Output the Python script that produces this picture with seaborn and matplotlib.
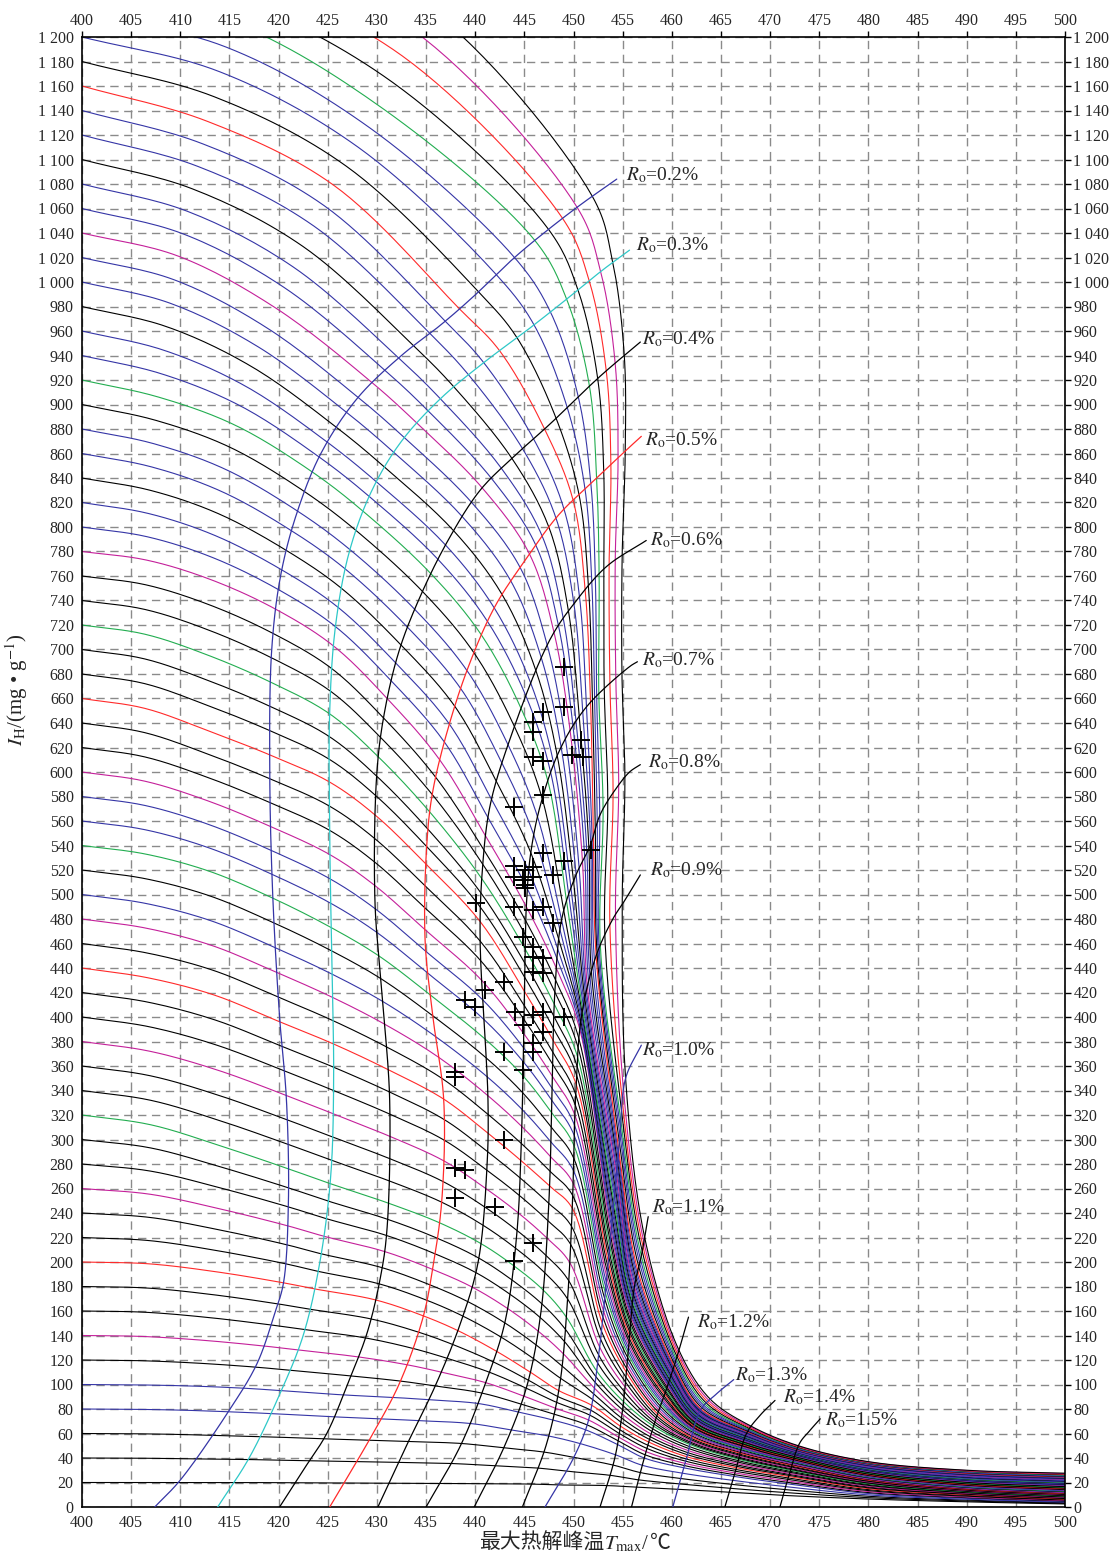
import numpy as np
import pandas as pd
import matplotlib
matplotlib.use("Agg")
import matplotlib.pyplot as plt
import seaborn as sns
from matplotlib.ticker import MultipleLocator, FuncFormatter

# ---------------------------------------------------------------------------
# Evolution curves: initial hydrogen index (IH at Tmax = 400 degC) and colour
# ---------------------------------------------------------------------------
ih0_curves = list(range(20, 1340, 20))
curve_codes = list("KKKBBKMKKR" "KKMKKGKKMK" "KRKMBKGBBM" "KKRKKGKKMB"
                   "BKBBKGBBKB" "BMBBKBBRKB" "BGKRMK")
palette_codes = {"K": "#000000", "B": "#3535a6", "R": "#ff2a2a",
                 "M": "#c4209a", "G": "#22ad50", "C": "#2ec8c8"}

# Reference curves (by initial IH) and the IH where they cross each iso-Ro line
key_ih0 = [20, 100, 200, 320, 440, 540, 660, 780, 920, 1040, 1160, 1240, 1320]
pre1_ih = [20, 99.7, 198.5, 312, 432, 533, 652, 773, 906, 1021, 1131, 1212, 1286]
pre2_ih = [20, 98.8, 192, 295, 418, 519, 634, 757, 883, 979, 1079, 1141, 1228]
cross_ro02 = [20, 97, 183, 276, 396, 497, 614, 733, 845, 918, 978, 1034, 1070]
cross_ro03 = [20, 95, 178, 264, 378, 473, 592, 703, 813, 885, 944, 986, 1016]
cross_ro04 = [19.8, 91.5, 169, 248, 357, 450, 565, 660, 762, 832, 880, 915, 940]
cross_ro05 = [19.6, 89.5, 156, 232, 333, 418, 525, 610, 712, 778, 822, 840, 862]
cross_ro06 = [19.4, 87.5, 144, 215, 305, 382, 478, 548, 652, 714, 749, 762, 777]
cross_ro07 = [19.2, 84.5, 127, 197, 283, 352, 421, 490, 593, 634, 657, 664, 681]
cross_ro08 = [19.0, 77.5, 110, 177, 262, 322, 381, 440, 495, 527, 548, 570, 596]
cross_ro09 = [18.7, 71, 95, 155, 244, 295, 345, 390, 406, 425, 450, 459, 492]
cross_ro10 = [18, 63, 83, 111, 150, 175, 200, 225, 250, 272, 292, 315, 350]
cross_ro11 = [17.5, 51, 66, 86, 110, 125, 140, 155, 168, 180, 193, 205, 220]
cross_ro12 = [16.2, 40, 53, 66, 76, 84, 92, 99, 105, 110, 115, 121, 128]
cross_ro13 = [14.5, 32, 41, 51, 57, 62, 66, 70, 74, 77, 80, 84, 88]
cross_ro14 = [12, 25, 32, 39, 44, 47.5, 51, 54, 57, 59.5, 61.5, 63.5, 66]
cross_ro15 = [9.5, 19, 25, 30, 34, 37, 39.5, 42, 44, 45.5, 47, 48.5, 50]
tail_tmax = [480, 490, 500]
tail_480 = [6.5, 11, 15, 19, 22, 24.5, 26.5, 29, 31, 33, 35, 36, 37]
tail_490 = [4.2, 7, 10, 12.5, 14.5, 16.5, 18.5, 21, 23, 25.5, 27.5, 29, 30]
tail_500 = [2.5, 4.5, 6.5, 9, 11, 13, 15, 17.5, 20, 22.5, 24.5, 26, 27.6]

# ---------------------------------------------------------------------------
# Iso-Ro lines (Tmax, IH) from the baseline up to the label leader end
# ---------------------------------------------------------------------------
ro_levels = ["0.2", "0.3", "0.4", "0.5", "0.6", "0.7", "0.8",
             "0.9", "1.0", "1.1", "1.2", "1.3", "1.4", "1.5"]
ro_colors = ["B", "C", "K", "R", "K", "K", "K", "K", "B", "K", "K", "B", "K", "K"]
ro02_t = [407.4, 410, 414.9, 417.8, 419.6, 420.5, 421, 420.8, 420.1, 419.4, 419.1, 419.3, 420.2, 421.8, 424.3, 428, 432.5, 436.5, 439.8, 444, 447.3, 450.7, 454.4]
ro02_ih = [0, 22, 78, 117, 158, 183, 250, 332, 400, 500, 600, 700, 760, 810, 860, 905, 940, 965, 988, 1020, 1042, 1063, 1084]
ro03_t = [413.8, 417, 420, 422.5, 424.2, 425.3, 425.6, 425.4, 425.2, 425.2, 425.8, 427.2, 429.5, 432.5, 436.5, 441, 445.5, 449.3, 453, 455.7]
ro03_ih = [0, 40, 90, 140, 200, 270, 350, 450, 550, 650, 720, 780, 830, 870, 905, 935, 962, 986, 1010, 1026]
ro04_t = [420.1, 422.5, 424.9, 427, 429, 430.3, 431, 431.3, 430.5, 429.8, 430, 430.8, 432.3, 434.5, 437.3, 440.5, 444, 447.6, 452.7, 456.8]
ro04_ih = [0, 30, 60, 100, 142, 185, 224, 332, 420, 495, 600, 650, 700, 745, 790, 830, 858, 884, 923, 951]
ro05_t = [425.2, 429.6, 432.3, 434.7, 435.7, 436.6, 436.8, 435.7, 434.9, 435.1, 435.7, 437.4, 439.5, 442, 445, 448.5, 451.7, 455.4, 456.9]
ro05_ih = [0, 60, 101, 155, 196, 250, 332, 400, 463, 544, 585, 640, 690, 735, 772, 810, 835, 863, 874]
ro06_t = [430.1, 433, 436, 438.5, 440.3, 441.2, 441.3, 440.5, 440.7, 441.5, 443.5, 447.6, 450.3, 453.4, 457.4]
ro06_ih = [0, 50, 100, 150, 200, 278, 332, 463, 517, 572, 626, 708, 740, 768, 789]
ro07_t = [435, 438.5, 441, 443, 444.2, 444.7, 445.1, 445.2, 445.6, 446.6, 448.6, 451.3, 455.7, 456.5]
ro07_ih = [0, 50, 100, 150, 220, 300, 463, 490, 531, 572, 618, 653, 686, 690]
ro08_t = [439.9, 443, 445.3, 446.7, 447.5, 447.8, 448.1, 448.8, 450.2, 451.7, 452.7, 454.2, 455.7, 456.8]
ro08_ih = [0, 50, 100, 160, 250, 332, 420, 480, 515, 540, 565, 585, 600, 606]
ro09_t = [444.8, 447.2, 448.6, 449.4, 449.9, 450.2, 450.8, 452.3, 454.0, 455.2, 456.8]
ro09_ih = [0, 50, 100, 170, 250, 332, 400, 450, 480, 495, 516]
ro10_t = [447.1, 450, 451.5, 452.5, 453.3, 454, 454.7, 455.3, 456.9]
ro10_ih = [0, 40, 70, 120, 180, 240, 300, 350, 377]
ro11_t = [452.7, 454.2, 455, 455.6, 456.2, 456.9, 457.6]
ro11_ih = [0, 40, 80, 130, 180, 205, 237]
ro12_t = [455.9, 457.2, 458.3, 459.4, 460.5, 461.7]
ro12_ih = [0, 40, 70, 95, 122, 155]
ro13_t = [460.1, 461.5, 462.9, 464.5, 466.3]
ro13_ih = [0, 40, 79, 92, 104]
ro14_t = [465.4, 466.5, 467.6, 469, 470.5]
ro14_ih = [0, 30, 60, 75, 87]
ro15_t = [471, 472, 473, 474, 475.1]
ro15_ih = [0, 28, 52, 62, 72]
label_t = [455.3, 456.4, 457.0, 457.3, 457.8, 457.0, 457.6, 457.8, 457.0, 458.0, 462.6, 466.4, 471.3, 475.6]
label_ih = [1087, 1030, 953, 871, 789, 691, 608, 520, 373, 245, 151, 108, 90, 71]

# ---------------------------------------------------------------------------
# Measured samples
# ---------------------------------------------------------------------------
sample_tmax = [449.0, 449.0, 446.9, 445.9, 445.9, 450.8, 445.9, 446.9, 449.8, 451.0,
               446.9, 443.9, 451.8, 446.9, 449.0, 443.9, 445.9, 445.1, 447.9, 443.9,
               444.9, 445.1, 445.1, 445.9, 440.1, 443.9, 445.9, 446.9, 447.9, 444.9,
               445.9, 445.9, 446.9, 445.9, 446.9, 442.9, 441.0, 439.0, 440.0, 444.0,
               445.9, 446.9, 449.0, 444.9, 446.9, 445.9, 445.9, 442.9, 444.9, 437.9,
               437.9, 442.9, 437.9, 439.0, 437.9, 442.0, 445.9, 443.9]
sample_ih = [686, 653, 649, 641, 633, 626, 612.5, 609, 614, 612.5,
             581, 571.7, 536, 533.6, 527.6, 523.5, 522.7, 520, 516, 514.5,
             511.8, 507.8, 505, 514.5, 492.8, 490, 487.3, 490, 476.5, 465.5,
             457.4, 449.2, 447.9, 437, 435.7, 428.8, 422, 413.9, 408.4, 404.3,
             401.6, 404.3, 400.2, 393.5, 388, 378.5, 371.7, 371.7, 356.7, 355.4,
             351.3, 299.6, 276.5, 275.1, 252, 245.2, 215.2, 200.8]

# ---------------------------------------------------------------------------
# Helpers
# ---------------------------------------------------------------------------
SX, SY = 9.83, 1.225  # screen size of one degC / one IH unit


def smooth(ts, ihs, n=14):
    """Centripetal Catmull-Rom path through the given (Tmax, IH) nodes."""
    P = np.column_stack([(np.asarray(ts, float) - 400) * SX,
                         np.asarray(ihs, float) * SY])
    d = np.hypot(*np.diff(P, axis=0).T)
    P = P[np.r_[True, d > 1e-3]]
    if len(P) < 3:
        return P[:, 0] / SX + 400, P[:, 1] / SY
    E = np.vstack([2 * P[0] - P[1], P, 2 * P[-1] - P[-2]])
    out = []
    for i in range(len(P) - 1):
        p0, p1, p2, p3 = E[i], E[i + 1], E[i + 2], E[i + 3]
        t0 = 0.0
        t1 = t0 + max(np.hypot(*(p1 - p0)), 1e-6) ** 0.5
        t2 = t1 + max(np.hypot(*(p2 - p1)), 1e-6) ** 0.5
        t3 = t2 + max(np.hypot(*(p3 - p2)), 1e-6) ** 0.5
        t = np.linspace(t1, t2, n, endpoint=False)[:, None]
        A1 = (t1 - t) / (t1 - t0) * p0 + (t - t0) / (t1 - t0) * p1
        A2 = (t2 - t) / (t2 - t1) * p1 + (t - t1) / (t2 - t1) * p2
        A3 = (t3 - t) / (t3 - t2) * p2 + (t - t2) / (t3 - t2) * p3
        B1 = (t2 - t) / (t2 - t0) * A1 + (t - t0) / (t2 - t0) * A2
        B2 = (t3 - t) / (t3 - t1) * A2 + (t - t1) / (t3 - t1) * A3
        out.append((t2 - t) / (t2 - t1) * B1 + (t - t1) / (t2 - t1) * B2)
    out.append(P[-1:])
    C = np.vstack(out)
    return C[:, 0] / SX + 400, C[:, 1] / SY


ro_t_nodes = [ro02_t, ro03_t, ro04_t, ro05_t, ro06_t, ro07_t, ro08_t,
              ro09_t, ro10_t, ro11_t, ro12_t, ro13_t, ro14_t, ro15_t]
ro_ih_nodes = [ro02_ih, ro03_ih, ro04_ih, ro05_ih, ro06_ih, ro07_ih, ro08_ih,
               ro09_ih, ro10_ih, ro11_ih, ro12_ih, ro13_ih, ro14_ih, ro15_ih]
cross_rows = [cross_ro02, cross_ro03, cross_ro04, cross_ro05, cross_ro06,
              cross_ro07, cross_ro08, cross_ro09, cross_ro10, cross_ro11,
              cross_ro12, cross_ro13, cross_ro14, cross_ro15]
tail_rows = [tail_480, tail_490, tail_500]

ro_paths = [smooth(t, h, n=20) for t, h in zip(ro_t_nodes, ro_ih_nodes)]


def ro_tmax_at(k, ih):
    t, h = ro_paths[k]
    h = np.maximum.accumulate(h)
    return float(np.interp(ih, h, t))


# ---------------------------------------------------------------------------
# Build every evolution curve through its iso-Ro crossings
# ---------------------------------------------------------------------------
frames = []
for u in ih0_curves:
    ih_r = [float(np.interp(u, key_ih0, row)) for row in cross_rows]
    t_r = [ro_tmax_at(k, h) for k, h in enumerate(ih_r)]
    t02 = t_r[0]
    ts = [400.0, 400 + (t02 - 400) / 3, 400 + 2 * (t02 - 400) / 3] + t_r + tail_tmax
    hs = [float(u), float(np.interp(u, key_ih0, pre1_ih)),
          float(np.interp(u, key_ih0, pre2_ih))] + ih_r + \
         [float(np.interp(u, key_ih0, row)) for row in tail_rows]
    ct, ch = smooth(ts, hs, n=16)
    frames.append(pd.DataFrame({"Tmax": ct, "IH": ch, "curve": u}))
curves = pd.concat(frames, ignore_index=True)
curve_palette = {u: palette_codes[c] for u, c in zip(ih0_curves, curve_codes)}

# ---------------------------------------------------------------------------
# Plot
# ---------------------------------------------------------------------------
sns.set_theme(style="white")
plt.rcParams["font.family"] = ["Liberation Serif", "Noto Sans CJK SC", "DejaVu Sans"]
plt.rcParams["mathtext.fontset"] = "stix"
plt.rcParams["axes.unicode_minus"] = True

fig = plt.figure(figsize=(11.14, 15.58), dpi=100)
ax = fig.add_axes([82 / 1114, 1 - 1507 / 1558, 983 / 1114, 1470 / 1558])

ax.set_axisbelow(True)
ax.grid(True, which="major", linestyle=(0, (6, 4)), color="#8a8a8a", linewidth=1.0)

sns.lineplot(data=curves, x="Tmax", y="IH", hue="curve", palette=curve_palette,
             hue_order=ih0_curves, sort=False, estimator=None, legend=False,
             linewidth=0.8, ax=ax)

for k, (t, h) in enumerate(ro_paths):
    ax.plot(t, h, color=palette_codes[ro_colors[k]], linewidth=0.9, zorder=3)
    ax.text(label_t[k], label_ih[k], r"$R_{\mathrm{o}}$=" + ro_levels[k] + "%",
            fontsize=14, ha="left", va="center", zorder=5)

sns.scatterplot(x=sample_tmax, y=sample_ih, marker="+", s=170, color="black",
                linewidth=1.4, ax=ax, zorder=6)

ax.set_xlim(400, 500)
ax.set_ylim(0, 1200)
ax.xaxis.set_major_locator(MultipleLocator(5))
ax.yaxis.set_major_locator(MultipleLocator(20))
ax.yaxis.set_major_formatter(FuncFormatter(lambda v, p: f"{int(round(v)):,}".replace(",", " ")))
ax.tick_params(axis="both", which="major", direction="out", length=4, width=1.0,
               labelsize=11.5, top=True, right=True, labeltop=True, labelright=True,
               pad=2, color="black")
for s in ax.spines.values():
    s.set_color("black")
    s.set_linewidth(1.2)
ax.set_xlabel("")
ax.set_ylabel(r"$I_{\mathrm{H}}$/(mg • g$^{-1}$)", fontsize=15)
ax.yaxis.set_label_coords(-0.053, (1507 - 690) / 1470)

# x-axis title assembled from CJK text and the Tmax symbol, centred below the axis
fig.canvas.draw()
renderer = fig.canvas.get_renderer()
pieces = [("最大热解峰温", {"family": ["Noto Sans CJK SC"]}),
          (r"$T_{\mathrm{max}}$/", {}),
          ("℃", {"family": ["Noto Sans CJK SC"]})]
texts = [fig.text(0, 0, s, fontsize=15, ha="left", va="baseline", **kw) for s, kw in pieces]
widths = [t.get_window_extent(renderer).width for t in texts]
x_px = 575 - sum(widths) / 2
for t, w in zip(texts, widths):
    t.set_position((x_px / 1114, 9 / 1558))
    x_px += w

fig.savefig("out.png", dpi=100)
